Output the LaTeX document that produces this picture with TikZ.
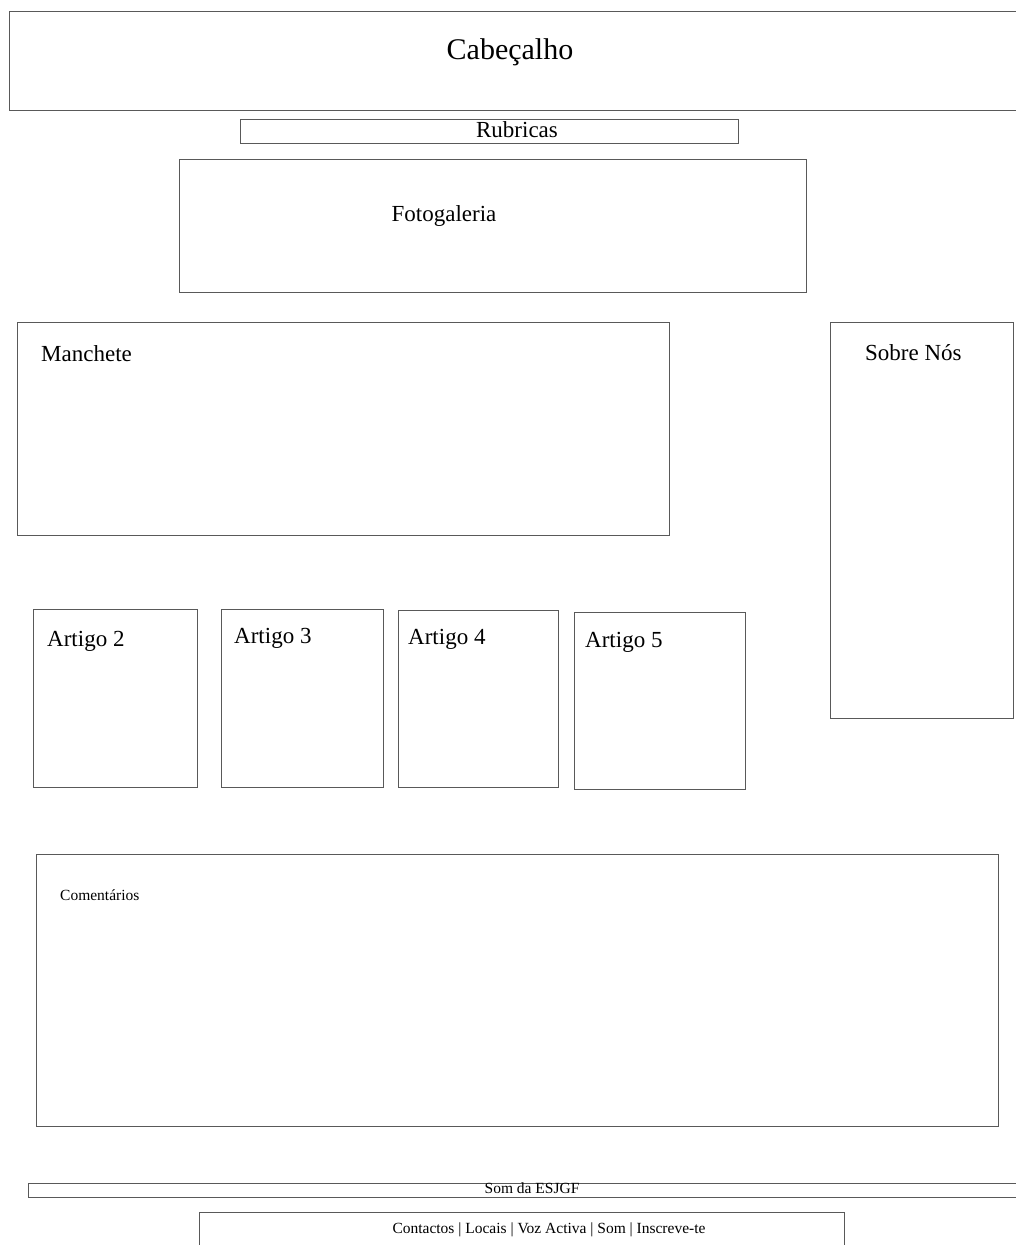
\documentclass[tikz,border=0pt]{standalone}
\usepackage{fontspec}
\setmainfont{Liberation Serif}
\begin{document}
\begin{tikzpicture}[x=1pt,y=-1pt,
  frame/.style={draw=black!65,line width=1pt},
  big/.style={font=\fontsize{23}{26}\selectfont,inner sep=0pt},
  huge/.style={font=\fontsize{30}{34}\selectfont,inner sep=0pt},
  small/.style={font=\fontsize{15.5}{18}\selectfont,inner sep=0pt}]
\useasboundingbox[fill=white] (0,0) rectangle (1016,1245);
% header (open to the right)
\draw[frame] (1017,11) -- (9,11) -- (9,110) -- (1017,110);
\node[huge,anchor=base] (cab) at (510,59) {Cabeçalho};
% rubricas
\draw[frame] (240,119) rectangle (738,143);
\node[big,anchor=base] (rub) at (517,137) {Rubricas};
% fotogaleria
\draw[frame] (179,159) rectangle (806,292);
\node[big,anchor=base] (foto) at (444,221) {Fotogaleria};
% manchete
\draw[frame] (17,322) rectangle (669,535);
\node[big,anchor=base west] (man) at (41,361) {Manchete};
% sobre nos
\draw[frame] (830,322) rectangle (1013,718);
\node[big,anchor=base west] (sobre) at (865,360) {Sobre Nós};
% artigos
\draw[frame] (33,609) rectangle (197,787);
\node[big,anchor=base west] (a2) at (47,646) {Artigo 2};
\draw[frame] (221,609) rectangle (383,787);
\node[big,anchor=base west] (a3) at (234,643) {Artigo 3};
\draw[frame] (398,610) rectangle (558,787);
\node[big,anchor=base west] (a4) at (408,644) {Artigo 4};
\draw[frame] (574,612) rectangle (745,789);
\node[big,anchor=base west] (a5) at (585,647) {Artigo 5};
% comentarios
\draw[frame] (36,854) rectangle (998,1126);
\node[small,anchor=base west] (com) at (60,900) {Comentários};
% som da esjgf (open right)
\draw[frame] (1017,1183) -- (28,1183) -- (28,1197) -- (1017,1197);
\node[small,anchor=base] (som) at (532,1193) {Som da ESJGF};
% footer (open bottom)
\draw[frame] (199,1246) -- (199,1212) -- (844,1212) -- (844,1246);
\node[small,anchor=base] (foot) at (549,1233) {Contactos | Locais | Voz Activa | Som | Inscreve-te};
\end{tikzpicture}
\end{document}
